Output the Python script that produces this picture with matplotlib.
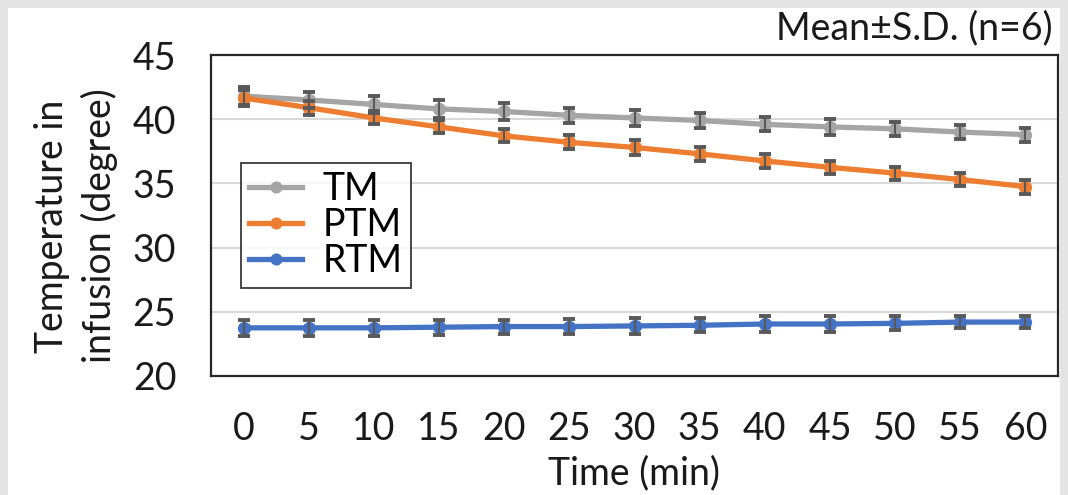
import matplotlib
matplotlib.use("Agg")
import matplotlib.pyplot as plt
from matplotlib.patches import Rectangle
import numpy as np

plt.rcParams['font.family'] = ['Lato', 'DejaVu Sans']

# data
times = [0, 5, 10, 15, 20, 25, 30, 35, 40, 45, 50, 55, 60]
tm_mean = [41.8, 41.5, 41.15, 40.8, 40.6, 40.3, 40.1, 39.9, 39.6, 39.4, 39.25, 39.0, 38.8]
ptm_mean = [41.65, 40.9, 40.1, 39.4, 38.7, 38.2, 37.8, 37.3, 36.75, 36.25, 35.8, 35.3, 34.75]
rtm_mean = [23.75, 23.75, 23.75, 23.8, 23.85, 23.85, 23.9, 23.95, 24.05, 24.05, 24.1, 24.2, 24.2]
tm_sd = [0.7, 0.65, 0.65, 0.7, 0.65, 0.6, 0.6, 0.6, 0.55, 0.6, 0.55, 0.55, 0.55]
ptm_sd = [0.6, 0.55, 0.5, 0.5, 0.5, 0.55, 0.55, 0.55, 0.55, 0.5, 0.5, 0.5, 0.55]
rtm_sd = [0.6, 0.6, 0.6, 0.6, 0.55, 0.6, 0.6, 0.55, 0.6, 0.6, 0.55, 0.5, 0.5]

series = [
    ('TM', tm_mean, tm_sd, '#a5a5a5'),
    ('PTM', ptm_mean, ptm_sd, '#ed7d31'),
    ('RTM', rtm_mean, rtm_sd, '#4472c4'),
]

FS = 27
TXT = '#1a1a1a'

fig = plt.figure(figsize=(10.68, 4.95), dpi=100)
fig.patch.set_facecolor('#e4e4e4')
# white panel inside the gray border
fig.patches.append(Rectangle((8 / 1068, 0), 1052 / 1068, 487 / 495,
                             transform=fig.transFigure, facecolor='white',
                             edgecolor='none', zorder=-5))

ax = fig.add_axes([211 / 1068, 1 - 376 / 495, 847 / 1068, 321 / 495])
x = np.arange(len(times))

handles = []
for name, mean, sd, color in series:
    ax.errorbar(x, mean, yerr=sd, fmt='none', ecolor='#595959',
                elinewidth=1.5, capsize=4.5, capthick=2.8, zorder=3)
    h, = ax.plot(x, mean, color=color, lw=3.8, marker='o', ms=8.5,
                 label=name, zorder=2)
    handles.append(h)

ax.set_xlim(-0.5, len(times) - 0.5)
ax.set_ylim(20, 45)
ax.set_yticks([20, 25, 30, 35, 40, 45])
ax.set_xticks(x)
ax.set_xticklabels([str(t) for t in times])
ax.tick_params(axis='both', length=0, labelsize=FS, colors=TXT)
ax.tick_params(axis='y', pad=25)
ax.tick_params(axis='x', pad=25)
ax.grid(axis='y', color='#d9d9d9', lw=1.5, zorder=0)
ax.set_axisbelow(True)
for s in ax.spines.values():
    s.set_color('#262626')
    s.set_linewidth(1.6)

ax.set_xlabel('Time (min)', fontsize=FS, color=TXT, labelpad=6)
ax.set_ylabel('Temperature in\ninfusion (degree)', fontsize=FS,
              color=TXT, linespacing=1.35, va='center')
ax.yaxis.set_label_coords((76 - 211) / 847, (376 - 226) / 321)

leg = ax.legend(handles=handles, loc='upper left',
                bbox_to_anchor=(30 / 847, 1 - 108 / 321),
                fontsize=FS, frameon=True, fancybox=False,
                handlelength=1.4, handletextpad=0.55, borderpad=0.22,
                borderaxespad=0, labelspacing=0.0, markerscale=0.9)
leg.get_frame().set_edgecolor(TXT)
leg.get_frame().set_linewidth(1.4)

fig.text(1053 / 1068, 1 - 28 / 495, 'Mean\u00b1S.D. (n=6)', fontsize=FS,
         ha='right', va='center', color=TXT)

fig.savefig('out.png', dpi=100, facecolor=fig.get_facecolor())
